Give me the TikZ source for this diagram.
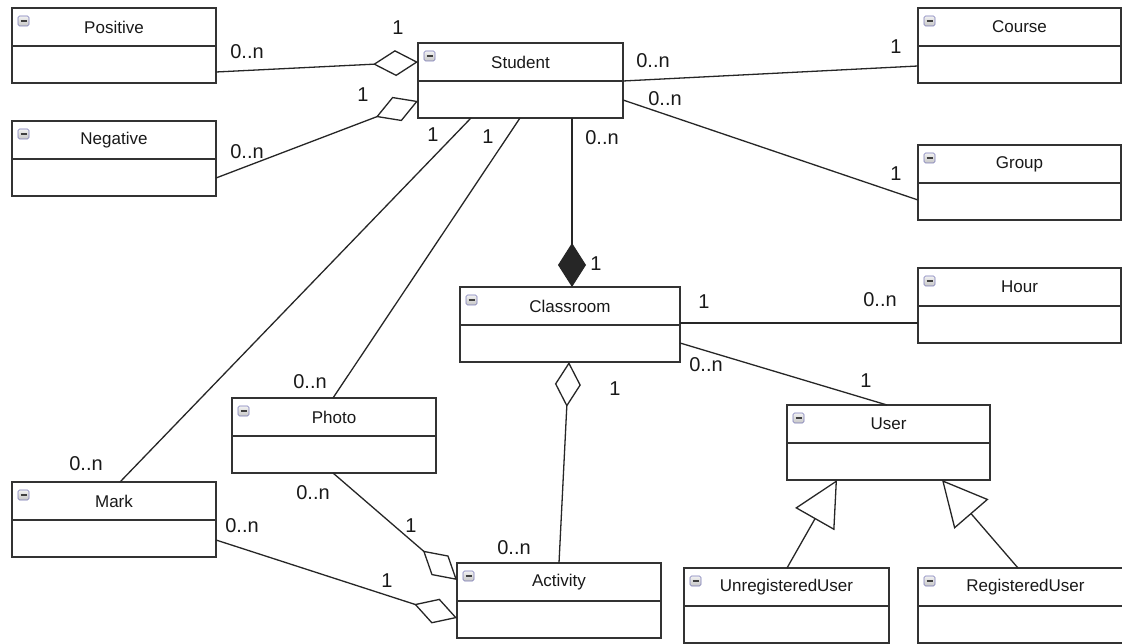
\documentclass[tikz,border=0pt]{standalone}
\usepackage{fontspec}
\setmainfont{Liberation Sans}
\usetikzlibrary{arrows.meta,calc}

\tikzset{
  classbox/.style={draw=black!80, line width=1.6pt, fill=white, outer sep=0pt, inner sep=0pt},
  divider/.style={draw=black!80, line width=1.4pt},
  classname/.style={font=\fontsize{17}{20}\selectfont, text=black!90, inner sep=0pt},
  mult/.style={font=\fontsize{20}{24}\selectfont, text=black!90, inner sep=0pt},
  assoc/.style={draw=black!85, line width=1.3pt},
  aggr/.style={assoc, -{Diamond[open, sharp, length=45pt, width=26pt]}},
  compo/.style={assoc, -{Diamond[sharp, length=44pt, width=28pt]}},
  inherit/.style={assoc, -{Triangle[open, sharp, length=45pt, width=45pt]}},
  minusicon/.style={rounded corners=1.5pt, draw=gray!70!blue!80, line width=0.6pt,
                    top color=gray!10, bottom color=gray!45},
}

% class box: name, left, top, width, height, title
\newcommand\umlclass[6]{%
  \node[classbox, minimum width=#4pt, minimum height=#5pt, anchor=north west] (#1) at (#2,#3) {};
  \draw[divider] ([yshift=-38pt]#1.north west) -- ([yshift=-38pt]#1.north east);
  \node[classname] at ([yshift=-19pt]#1.north) {#6};
  \draw[minusicon] ([shift={(6pt,-8pt)}]#1.north west) rectangle ++(11pt,-10pt);
  \draw[black!75, line width=1.4pt] ([shift={(8.5pt,-13pt)}]#1.north west) -- ++(6pt,0);
}

\begin{document}
\begin{tikzpicture}[x=1pt, y=-1pt]
\useasboundingbox[fill=white] (0,0) rectangle (1122,644);

% classes
\umlclass{positive}{12}{8}{204}{75}{Positive}
\umlclass{negative}{12}{121}{204}{75}{Negative}
\umlclass{student}{418}{43}{205}{75}{Student}
\umlclass{course}{918}{8}{203}{75}{Course}
\umlclass{group}{918}{145}{203}{75}{Group}
\umlclass{hour}{918}{268}{203}{75}{Hour}
\umlclass{classroom}{460}{287}{220}{75}{Classroom}
\umlclass{user}{787}{405}{203}{75}{User}
\umlclass{photo}{232}{398}{204}{75}{Photo}
\umlclass{mark}{12}{482}{204}{75}{Mark}
\umlclass{activity}{457}{563}{204}{75}{Activity}
\umlclass{unreg}{684}{568}{205}{75}{UnregisteredUser}
\umlclass{reg}{918}{568}{215}{75}{RegisteredUser}

% associations
\draw[aggr] ([yshift=-64pt]positive.north east) -- ([yshift=-19pt]student.north west);
\draw[aggr] ([yshift=-57pt]negative.north east) -- ([yshift=-58pt]student.north west);
\draw[assoc] ([yshift=-38pt]student.north east) -- ([yshift=-58pt]course.north west);
\draw[assoc] ([yshift=-57pt]student.north east) -- ([yshift=-55pt]group.north west);
\draw[compo] ([xshift=154pt]student.south west) -- ([xshift=112pt]classroom.north west);
\draw[assoc] ([xshift=53pt]student.south west) -- ([xshift=108pt]mark.north west);
\draw[assoc] ([xshift=102pt]student.south west) -- ([xshift=101pt]photo.north west);
\draw[assoc] ([yshift=-36pt]classroom.north east) -- ([yshift=-55pt]hour.north west);
\draw[assoc] ([yshift=-56pt]classroom.north east) -- ([xshift=100pt]user.north west);
\draw[aggr] ([xshift=102pt]activity.north west) -- ([xshift=109pt]classroom.south west);
\draw[aggr] ([xshift=101pt]photo.south west) -- ([yshift=-17pt]activity.north west);
\draw[aggr] ([yshift=-58pt]mark.north east) -- ([yshift=-55pt]activity.north west);

% generalisations
\draw[inherit] ([xshift=103pt]unreg.north west) -- ([xshift=50pt]user.south west);
\draw[inherit] ([xshift=100pt]reg.north west) -- ([xshift=155pt]user.south west);

% multiplicities
\node[mult] at (398,28) {1};
\node[mult] at (247,52) {0..n};
\node[mult] at (363,95) {1};
\node[mult] at (247,152) {0..n};
\node[mult] at (653,61) {0..n};
\node[mult] at (896,47) {1};
\node[mult] at (665,99) {0..n};
\node[mult] at (896,174) {1};
\node[mult] at (433,135) {1};
\node[mult] at (488,137) {1};
\node[mult] at (602,138) {0..n};
\node[mult] at (596,264) {1};
\node[mult] at (704,302) {1};
\node[mult] at (880,300) {0..n};
\node[mult] at (706,365) {0..n};
\node[mult] at (866,381) {1};
\node[mult] at (615,389) {1};
\node[mult] at (310,382) {0..n};
\node[mult] at (86,464) {0..n};
\node[mult] at (313,493) {0..n};
\node[mult] at (411,526) {1};
\node[mult] at (242,526) {0..n};
\node[mult] at (387,581) {1};
\node[mult] at (514,548) {0..n};
\end{tikzpicture}
\end{document}
